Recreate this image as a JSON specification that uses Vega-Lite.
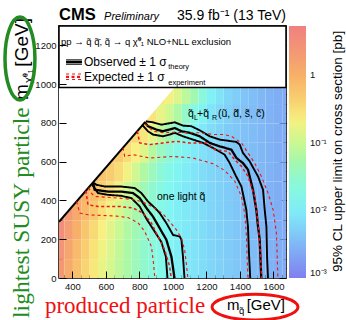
{
"$schema":"https://vega.github.io/schema/vega-lite/v6.json",
"width":227,"height":252,
"autosize":{"type":"none"},
"padding":{"left":59,"top":26,"right":60,"bottom":42},
"background":"white",
"config":{"view":{"stroke":"black","strokeWidth":1.5},"font":"Liberation Sans"},
"resolve":{"axis":{"x":"independent","y":"independent"}},
"datasets":{
"cells":[
{"m":300,"l":0,"s":2.2},{"m":300,"l":100,"s":2.7},{"m":300,"l":200,"s":3.2},{"m":300,"l":300,"s":3.5},
{"m":350,"l":0,"s":1.19},{"m":350,"l":100,"s":1.41},{"m":350,"l":200,"s":1.8},{"m":350,"l":300,"s":2.14},
{"m":400,"l":0,"s":0.65},{"m":400,"l":100,"s":0.74},{"m":400,"l":200,"s":0.99},{"m":400,"l":300,"s":1.26},{"m":400,"l":400,"s":1.41},
{"m":450,"l":0,"s":0.39},{"m":450,"l":100,"s":0.45},{"m":450,"l":200,"s":0.56},{"m":450,"l":300,"s":0.78},{"m":450,"l":400,"s":0.98},
{"m":500,"l":0,"s":0.26},{"m":500,"l":100,"s":0.29},{"m":500,"l":200,"s":0.35},{"m":500,"l":300,"s":0.5},{"m":500,"l":400,"s":0.68},{"m":500,"l":500,"s":0.79},
{"m":550,"l":0,"s":0.17},{"m":550,"l":100,"s":0.19},{"m":550,"l":200,"s":0.22},{"m":550,"l":300,"s":0.3},{"m":550,"l":400,"s":0.44},{"m":550,"l":500,"s":0.59},
{"m":600,"l":0,"s":0.12},{"m":600,"l":100,"s":0.13},{"m":600,"l":200,"s":0.15},{"m":600,"l":300,"s":0.19},{"m":600,"l":400,"s":0.31},{"m":600,"l":500,"s":0.47},{"m":600,"l":600,"s":0.58},
{"m":650,"l":0,"s":0.083},{"m":650,"l":100,"s":0.089},{"m":650,"l":200,"s":0.1},{"m":650,"l":300,"s":0.124},{"m":650,"l":400,"s":0.19},{"m":650,"l":500,"s":0.33},{"m":650,"l":600,"s":0.49},
{"m":700,"l":0,"s":0.059},{"m":700,"l":100,"s":0.061},{"m":700,"l":200,"s":0.066},{"m":700,"l":300,"s":0.079},{"m":700,"l":400,"s":0.107},{"m":700,"l":500,"s":0.2},{"m":700,"l":600,"s":0.33},{"m":700,"l":700,"s":0.43},
{"m":750,"l":0,"s":0.042},{"m":750,"l":100,"s":0.042},{"m":750,"l":200,"s":0.045},{"m":750,"l":300,"s":0.051},{"m":750,"l":400,"s":0.068},{"m":750,"l":500,"s":0.111},{"m":750,"l":600,"s":0.22},{"m":750,"l":700,"s":0.36},
{"m":800,"l":0,"s":0.03},{"m":800,"l":100,"s":0.03},{"m":800,"l":200,"s":0.032},{"m":800,"l":300,"s":0.035},{"m":800,"l":400,"s":0.044},{"m":800,"l":500,"s":0.065},{"m":800,"l":600,"s":0.14},{"m":800,"l":700,"s":0.27},{"m":800,"l":800,"s":0.37},
{"m":850,"l":0,"s":0.022},{"m":850,"l":100,"s":0.022},{"m":850,"l":200,"s":0.022},{"m":850,"l":300,"s":0.025},{"m":850,"l":400,"s":0.029},{"m":850,"l":500,"s":0.04},{"m":850,"l":600,"s":0.071},{"m":850,"l":700,"s":0.16},{"m":850,"l":800,"s":0.28},
{"m":900,"l":0,"s":0.017},{"m":900,"l":100,"s":0.017},{"m":900,"l":200,"s":0.017},{"m":900,"l":300,"s":0.018},{"m":900,"l":400,"s":0.02},{"m":900,"l":500,"s":0.025},{"m":900,"l":600,"s":0.038},{"m":900,"l":700,"s":0.085},{"m":900,"l":800,"s":0.17},{"m":900,"l":900,"s":0.24},
{"m":950,"l":0,"s":0.013},{"m":950,"l":100,"s":0.013},{"m":950,"l":200,"s":0.013},{"m":950,"l":300,"s":0.013},{"m":950,"l":400,"s":0.0145},{"m":950,"l":500,"s":0.0174},{"m":950,"l":600,"s":0.025},{"m":950,"l":700,"s":0.047},{"m":950,"l":800,"s":0.11},{"m":950,"l":900,"s":0.21},
{"m":1000,"l":0,"s":0.0107},{"m":1000,"l":100,"s":0.0107},{"m":1000,"l":200,"s":0.0107},{"m":1000,"l":300,"s":0.0107},{"m":1000,"l":400,"s":0.0112},{"m":1000,"l":500,"s":0.0129},{"m":1000,"l":600,"s":0.0166},{"m":1000,"l":700,"s":0.026},{"m":1000,"l":800,"s":0.063},{"m":1000,"l":900,"s":0.135},
{"m":1050,"l":0,"s":0.0091},{"m":1050,"l":100,"s":0.0091},{"m":1050,"l":200,"s":0.0091},{"m":1050,"l":300,"s":0.0091},{"m":1050,"l":400,"s":0.0091},{"m":1050,"l":500,"s":0.01},{"m":1050,"l":600,"s":0.012},{"m":1050,"l":700,"s":0.0172},{"m":1050,"l":800,"s":0.032},{"m":1050,"l":900,"s":0.079},
{"m":1100,"l":0,"s":0.0079},{"m":1100,"l":100,"s":0.0079},{"m":1100,"l":200,"s":0.0079},{"m":1100,"l":300,"s":0.0079},{"m":1100,"l":400,"s":0.0079},{"m":1100,"l":500,"s":0.0083},{"m":1100,"l":600,"s":0.0095},{"m":1100,"l":700,"s":0.0123},{"m":1100,"l":800,"s":0.0193},{"m":1100,"l":900,"s":0.047},
{"m":1150,"l":0,"s":0.0069},{"m":1150,"l":100,"s":0.0069},{"m":1150,"l":200,"s":0.0069},{"m":1150,"l":300,"s":0.0069},{"m":1150,"l":400,"s":0.0069},{"m":1150,"l":500,"s":0.0069},{"m":1150,"l":600,"s":0.0076},{"m":1150,"l":700,"s":0.0089},{"m":1150,"l":800,"s":0.0123},{"m":1150,"l":900,"s":0.0219},
{"m":1200,"l":0,"s":0.006},{"m":1200,"l":100,"s":0.006},{"m":1200,"l":200,"s":0.006},{"m":1200,"l":300,"s":0.006},{"m":1200,"l":400,"s":0.006},{"m":1200,"l":500,"s":0.006},{"m":1200,"l":600,"s":0.0063},{"m":1200,"l":700,"s":0.0069},{"m":1200,"l":800,"s":0.0083},{"m":1200,"l":900,"s":0.0115},
{"m":1250,"l":0,"s":0.0054},{"m":1250,"l":100,"s":0.0054},{"m":1250,"l":200,"s":0.0054},{"m":1250,"l":300,"s":0.0054},{"m":1250,"l":400,"s":0.0054},{"m":1250,"l":500,"s":0.0054},{"m":1250,"l":600,"s":0.0055},{"m":1250,"l":700,"s":0.0057},{"m":1250,"l":800,"s":0.0064},{"m":1250,"l":900,"s":0.008},
{"m":1300,"l":0,"s":0.0048},{"m":1300,"l":100,"s":0.0048},{"m":1300,"l":200,"s":0.0048},{"m":1300,"l":300,"s":0.0048},{"m":1300,"l":400,"s":0.0048},{"m":1300,"l":500,"s":0.0048},{"m":1300,"l":600,"s":0.0048},{"m":1300,"l":700,"s":0.0048},{"m":1300,"l":800,"s":0.0052},{"m":1300,"l":900,"s":0.006},
{"m":1350,"l":0,"s":0.0043},{"m":1350,"l":100,"s":0.0043},{"m":1350,"l":200,"s":0.0043},{"m":1350,"l":300,"s":0.0043},{"m":1350,"l":400,"s":0.0043},{"m":1350,"l":500,"s":0.0043},{"m":1350,"l":600,"s":0.0043},{"m":1350,"l":700,"s":0.0043},{"m":1350,"l":800,"s":0.0043},{"m":1350,"l":900,"s":0.0049},
{"m":1400,"l":0,"s":0.0038},{"m":1400,"l":100,"s":0.0038},{"m":1400,"l":200,"s":0.0038},{"m":1400,"l":300,"s":0.0038},{"m":1400,"l":400,"s":0.0038},{"m":1400,"l":500,"s":0.0038},{"m":1400,"l":600,"s":0.0038},{"m":1400,"l":700,"s":0.0038},{"m":1400,"l":800,"s":0.0038},{"m":1400,"l":900,"s":0.0041},
{"m":1450,"l":0,"s":0.0035},{"m":1450,"l":100,"s":0.0035},{"m":1450,"l":200,"s":0.0035},{"m":1450,"l":300,"s":0.0035},{"m":1450,"l":400,"s":0.0035},{"m":1450,"l":500,"s":0.0035},{"m":1450,"l":600,"s":0.0035},{"m":1450,"l":700,"s":0.0035},{"m":1450,"l":800,"s":0.0035},{"m":1450,"l":900,"s":0.0036},
{"m":1500,"l":0,"s":0.0032},{"m":1500,"l":100,"s":0.0032},{"m":1500,"l":200,"s":0.0032},{"m":1500,"l":300,"s":0.0032},{"m":1500,"l":400,"s":0.0032},{"m":1500,"l":500,"s":0.0032},{"m":1500,"l":600,"s":0.0032},{"m":1500,"l":700,"s":0.0032},{"m":1500,"l":800,"s":0.0032},{"m":1500,"l":900,"s":0.0032},
{"m":1550,"l":0,"s":0.0029},{"m":1550,"l":100,"s":0.0029},{"m":1550,"l":200,"s":0.0029},{"m":1550,"l":300,"s":0.0029},{"m":1550,"l":400,"s":0.0029},{"m":1550,"l":500,"s":0.0029},{"m":1550,"l":600,"s":0.0029},{"m":1550,"l":700,"s":0.0029},{"m":1550,"l":800,"s":0.0029},{"m":1550,"l":900,"s":0.0029},
{"m":1600,"l":0,"s":0.0026},{"m":1600,"l":100,"s":0.0026},{"m":1600,"l":200,"s":0.0026},{"m":1600,"l":300,"s":0.0026},{"m":1600,"l":400,"s":0.0026},{"m":1600,"l":500,"s":0.0026},{"m":1600,"l":600,"s":0.0026},{"m":1600,"l":700,"s":0.0026},{"m":1600,"l":800,"s":0.0026},{"m":1600,"l":900,"s":0.0026},
{"m":1650,"l":0,"s":0.0024},{"m":1650,"l":100,"s":0.0024},{"m":1650,"l":200,"s":0.0024},{"m":1650,"l":300,"s":0.0024},{"m":1650,"l":400,"s":0.0024},{"m":1650,"l":500,"s":0.0024},{"m":1650,"l":600,"s":0.0024},{"m":1650,"l":700,"s":0.0024},{"m":1650,"l":800,"s":0.0024},{"m":1650,"l":900,"s":0.0024}
],
"mask":[{"m":320,"l":292},{"m":1040,"l":1012}],
"diag":[{"m":320,"l":290},{"m":835,"l":805}],
"contours":[
{"c":"Lo","k":"obs","m":832,"l":802},{"c":"Lo","k":"obs","m":851,"l":783},{"c":"Lo","k":"obs","m":901,"l":766},{"c":"Lo","k":"obs","m":941,"l":757},{"c":"Lo","k":"obs","m":981,"l":766},{"c":"Lo","k":"obs","m":1011,"l":774},{"c":"Lo","k":"obs","m":1051,"l":757},{"c":"Lo","k":"obs","m":1100,"l":749},{"c":"Lo","k":"obs","m":1160,"l":731},{"c":"Lo","k":"obs","m":1220,"l":697},{"c":"Lo","k":"obs","m":1279,"l":679},{"c":"Lo","k":"obs","m":1329,"l":667},{"c":"Lo","k":"obs","m":1349,"l":662},{"c":"Lo","k":"obs","m":1379,"l":619},{"c":"Lo","k":"obs","m":1418,"l":593},{"c":"Lo","k":"obs","m":1448,"l":559},{"c":"Lo","k":"obs","m":1478,"l":455},{"c":"Lo","k":"obs","m":1498,"l":352},{"c":"Lo","k":"obs","m":1508,"l":265},{"c":"Lo","k":"obs","m":1518,"l":197},{"c":"Lo","k":"obs","m":1528,"l":-10},
{"c":"Lu","k":"band","m":838,"l":808},{"c":"Lu","k":"band","m":881,"l":803},{"c":"Lu","k":"band","m":931,"l":791},{"c":"Lu","k":"band","m":971,"l":797},{"c":"Lu","k":"band","m":1011,"l":803},{"c":"Lu","k":"band","m":1060,"l":786},{"c":"Lu","k":"band","m":1110,"l":783},{"c":"Lu","k":"band","m":1160,"l":762},{"c":"Lu","k":"band","m":1220,"l":731},{"c":"Lu","k":"band","m":1279,"l":714},{"c":"Lu","k":"band","m":1379,"l":702},{"c":"Lu","k":"band","m":1399,"l":688},{"c":"Lu","k":"band","m":1418,"l":645},{"c":"Lu","k":"band","m":1458,"l":602},{"c":"Lu","k":"band","m":1508,"l":524},{"c":"Lu","k":"band","m":1538,"l":455},{"c":"Lu","k":"band","m":1548,"l":352},{"c":"Lu","k":"band","m":1558,"l":265},{"c":"Lu","k":"band","m":1562,"l":110},{"c":"Lu","k":"band","m":1568,"l":-10},
{"c":"Ld","k":"band","m":818,"l":788},{"c":"Ld","k":"band","m":851,"l":757},{"c":"Ld","k":"band","m":881,"l":740},{"c":"Ld","k":"band","m":941,"l":731},{"c":"Ld","k":"band","m":981,"l":740},{"c":"Ld","k":"band","m":1011,"l":749},{"c":"Ld","k":"band","m":1060,"l":731},{"c":"Ld","k":"band","m":1120,"l":714},{"c":"Ld","k":"band","m":1180,"l":697},{"c":"Ld","k":"band","m":1239,"l":671},{"c":"Ld","k":"band","m":1309,"l":636},{"c":"Ld","k":"band","m":1339,"l":593},{"c":"Ld","k":"band","m":1375,"l":528},{"c":"Ld","k":"band","m":1409,"l":472},{"c":"Ld","k":"band","m":1438,"l":352},{"c":"Ld","k":"band","m":1448,"l":265},{"c":"Ld","k":"band","m":1454,"l":128},{"c":"Ld","k":"band","m":1462,"l":-10},
{"c":"Le","k":"exp","m":787,"l":757},{"c":"Le","k":"exp","m":802,"l":697},{"c":"Le","k":"exp","m":861,"l":688},{"c":"Le","k":"exp","m":941,"l":697},{"c":"Le","k":"exp","m":1021,"l":705},{"c":"Le","k":"exp","m":1100,"l":697},{"c":"Le","k":"exp","m":1200,"l":697},{"c":"Le","k":"exp","m":1239,"l":671},{"c":"Le","k":"exp","m":1250,"l":662},{"c":"Le","k":"exp","m":1329,"l":653},{"c":"Le","k":"exp","m":1369,"l":610},{"c":"Le","k":"exp","m":1409,"l":576},{"c":"Le","k":"exp","m":1448,"l":524},{"c":"Le","k":"exp","m":1488,"l":421},{"c":"Le","k":"exp","m":1508,"l":283},{"c":"Le","k":"exp","m":1518,"l":180},{"c":"Le","k":"exp","m":1530,"l":-10},
{"c":"Leu","k":"eband","m":835,"l":795},{"c":"Leu","k":"eband","m":881,"l":757},{"c":"Leu","k":"eband","m":941,"l":750},{"c":"Leu","k":"eband","m":1001,"l":752},{"c":"Leu","k":"eband","m":1060,"l":750},{"c":"Leu","k":"eband","m":1160,"l":749},{"c":"Leu","k":"eband","m":1250,"l":740},{"c":"Leu","k":"eband","m":1309,"l":740},{"c":"Leu","k":"eband","m":1349,"l":731},{"c":"Leu","k":"eband","m":1409,"l":697},{"c":"Leu","k":"eband","m":1448,"l":645},{"c":"Leu","k":"eband","m":1488,"l":593},{"c":"Leu","k":"eband","m":1528,"l":524},{"c":"Leu","k":"eband","m":1568,"l":438},{"c":"Leu","k":"eband","m":1598,"l":352},{"c":"Leu","k":"eband","m":1618,"l":231},{"c":"Leu","k":"eband","m":1627,"l":-10},
{"c":"Led","k":"eband","m":702,"l":672},{"c":"Led","k":"eband","m":712,"l":627},{"c":"Led","k":"eband","m":762,"l":636},{"c":"Led","k":"eband","m":861,"l":619},{"c":"Led","k":"eband","m":1001,"l":627},{"c":"Led","k":"eband","m":1120,"l":619},{"c":"Led","k":"eband","m":1239,"l":590},{"c":"Led","k":"eband","m":1309,"l":555},{"c":"Led","k":"eband","m":1369,"l":500},{"c":"Led","k":"eband","m":1409,"l":421},{"c":"Led","k":"eband","m":1428,"l":335},{"c":"Led","k":"eband","m":1438,"l":231},{"c":"Led","k":"eband","m":1448,"l":-10},
{"c":"So","k":"obs","m":523,"l":493},{"c":"So","k":"obs","m":533,"l":455},{"c":"So","k":"obs","m":612,"l":446},{"c":"So","k":"obs","m":692,"l":446},{"c":"So","k":"obs","m":762,"l":438},{"c":"So","k":"obs","m":802,"l":412},{"c":"So","k":"obs","m":842,"l":361},{"c":"So","k":"obs","m":881,"l":317},{"c":"So","k":"obs","m":921,"l":257},{"c":"So","k":"obs","m":961,"l":197},{"c":"So","k":"obs","m":991,"l":110},{"c":"So","k":"obs","m":1011,"l":-10},
{"c":"Su","k":"band","m":523,"l":493},{"c":"Su","k":"band","m":543,"l":481},{"c":"Su","k":"band","m":593,"l":472},{"c":"Su","k":"band","m":692,"l":472},{"c":"Su","k":"band","m":772,"l":464},{"c":"Su","k":"band","m":812,"l":438},{"c":"Su","k":"band","m":851,"l":395},{"c":"Su","k":"band","m":893,"l":361},{"c":"Su","k":"band","m":921,"l":335},{"c":"Su","k":"band","m":961,"l":283},{"c":"Su","k":"band","m":1001,"l":222},{"c":"Su","k":"band","m":1041,"l":214},{"c":"Su","k":"band","m":1051,"l":197},{"c":"Su","k":"band","m":1060,"l":110},{"c":"Su","k":"band","m":1070,"l":-10},
{"c":"Sd","k":"band","m":515,"l":485},{"c":"Sd","k":"band","m":553,"l":438},{"c":"Sd","k":"band","m":612,"l":429},{"c":"Sd","k":"band","m":692,"l":424},{"c":"Sd","k":"band","m":752,"l":412},{"c":"Sd","k":"band","m":802,"l":369},{"c":"Sd","k":"band","m":842,"l":305},{"c":"Sd","k":"band","m":881,"l":253},{"c":"Sd","k":"band","m":931,"l":186},{"c":"Sd","k":"band","m":958,"l":110},{"c":"Sd","k":"band","m":968,"l":-10},
{"c":"Se","k":"exp","m":480,"l":450},{"c":"Se","k":"exp","m":493,"l":378},{"c":"Se","k":"exp","m":553,"l":369},{"c":"Se","k":"exp","m":682,"l":369},{"c":"Se","k":"exp","m":762,"l":361},{"c":"Se","k":"exp","m":821,"l":335},{"c":"Se","k":"exp","m":872,"l":283},{"c":"Se","k":"exp","m":911,"l":214},{"c":"Se","k":"exp","m":951,"l":145},{"c":"Se","k":"exp","m":981,"l":58},{"c":"Se","k":"exp","m":991,"l":-10},
{"c":"Seu","k":"eband","m":497,"l":467},{"c":"Seu","k":"eband","m":510,"l":440},{"c":"Seu","k":"eband","m":533,"l":421},{"c":"Seu","k":"eband","m":682,"l":412},{"c":"Seu","k":"eband","m":772,"l":403},{"c":"Seu","k":"eband","m":812,"l":395},{"c":"Seu","k":"eband","m":861,"l":375},{"c":"Seu","k":"eband","m":901,"l":355},{"c":"Seu","k":"eband","m":941,"l":330},{"c":"Seu","k":"eband","m":981,"l":291},{"c":"Seu","k":"eband","m":1021,"l":248},{"c":"Seu","k":"eband","m":1051,"l":205},{"c":"Seu","k":"eband","m":1070,"l":145},{"c":"Seu","k":"eband","m":1080,"l":76},{"c":"Seu","k":"eband","m":1090,"l":-10},
{"c":"Sed","k":"eband","m":425,"l":395},{"c":"Sed","k":"eband","m":444,"l":335},{"c":"Sed","k":"eband","m":493,"l":326},{"c":"Sed","k":"eband","m":652,"l":320},{"c":"Sed","k":"eband","m":732,"l":312},{"c":"Sed","k":"eband","m":792,"l":285},{"c":"Sed","k":"eband","m":832,"l":240},{"c":"Sed","k":"eband","m":872,"l":162},{"c":"Sed","k":"eband","m":884,"l":76},{"c":"Sed","k":"eband","m":893,"l":-10}
]
},
"layer":[
{"data":{"name":"cells"},
 "mark":{"type":"rect","clip":true},
 "encoding":{
  "x":{"field":"m","type":"quantitative","bin":{"binned":true,"step":50},"scale":{"domain":[320,1675],"nice":false,"zero":false},
       "axis":{"orient":"bottom","values":[400,600,800,1000,1200,1400,1600],"title":null,"domain":false,"grid":false,"tickSize":-7,"tickColor":"black","labelPadding":10,"labelFontSize":9.5,"labelColor":"#111","labelFont":"Liberation Sans","labelFlush":false,"labelOverlap":false,"format":"d"}},
  "y":{"field":"l","type":"quantitative","bin":{"binned":true,"step":100},"scale":{"domain":[0,1300],"nice":false,"zero":false},
       "axis":{"orient":"left","values":[0,200,400,600,800,1000,1200],"title":null,"domain":false,"grid":false,"tickSize":-7,"tickColor":"black","labelPadding":10,"labelFontSize":9.5,"labelColor":"#111","labelFont":"Liberation Sans","labelFlush":false,"labelOverlap":false,"format":"d"}},
  "color":{"field":"s","type":"quantitative",
    "scale":{"type":"log","domain":[0.001,0.0023,0.0044,0.0088,0.0145,0.029,0.056,0.11,0.218,0.43,1.0,1.66,5.3],
             "range":["#8080f0","#80a8f4","#80c8f8","#80e8f8","#80f8f0","#90f8d0","#a8f8a8","#d0f890","#f8f080","#f8d070","#f8b068","#f5a070","#f08080"],"interpolate":"rgb"},
    "legend":{"orient":"none","legendX":230,"legendY":0,"direction":"vertical","gradientLength":252,"gradientThickness":17,"title":null,"padding":0,
              "values":[0.001,0.01,0.1,1],"labelExpr":"datum.value > 0.5 ? '1' : datum.value > 0.05 ? '10⁻¹' : datum.value > 0.005 ? '10⁻²' : '10⁻³'",
              "labelFontSize":9.5,"labelFont":"Liberation Sans","labelColor":"#111","labelOffset":4,"gradientStrokeWidth":0}}
 }},
{"data":{"name":"mask"},
 "mark":{"type":"area","fill":"white","clip":true,"opacity":1},
 "encoding":{
  "x":{"field":"m","type":"quantitative","axis":{"orient":"bottom","values":[350,400,450,500,550,600,650,700,750,800,850,900,950,1000,1050,1100,1150,1200,1250,1300,1350,1400,1450,1500,1550,1600,1650],"labels":false,"title":null,"domain":false,"grid":false,"tickSize":-3.5,"tickColor":"black"}},
  "y":{"field":"l","type":"quantitative","axis":{"orient":"left","values":[50,100,150,200,250,300,350,400,450,500,550,600,650,700,750,800,850,900,950,1000,1050,1100,1150,1200,1250],"labels":false,"title":null,"domain":false,"grid":false,"tickSize":-3.5,"tickColor":"black"}},
  "y2":{"datum":1300}
 }},
{"data":{"name":"diag"},
 "mark":{"type":"line","color":"black","strokeWidth":2,"clip":true},
 "encoding":{
  "x":{"field":"m","type":"quantitative","axis":{"orient":"top","values":[400,600,800,1000,1200,1400,1600],"labels":false,"title":null,"domain":false,"grid":false,"tickSize":-7,"tickColor":"black"}},
  "y":{"field":"l","type":"quantitative","axis":{"orient":"right","values":[0,200,400,600,800,1000,1200],"labels":false,"title":null,"domain":false,"grid":false,"tickSize":-7,"tickColor":"black"}}
 }},
{"data":{"name":"contours"},
 "mark":{"type":"line","clip":true},
 "encoding":{
  "x":{"field":"m","type":"quantitative","axis":{"orient":"top","values":[350,400,450,500,550,600,650,700,750,800,850,900,950,1000,1050,1100,1150,1200,1250,1300,1350,1400,1450,1500,1550,1600,1650],"labels":false,"title":null,"domain":false,"grid":false,"tickSize":-3.5,"tickColor":"black"}},
  "y":{"field":"l","type":"quantitative","axis":{"orient":"right","values":[50,100,150,200,250,300,350,400,450,500,550,600,650,700,750,800,850,900,950,1000,1050,1100,1150,1200,1250],"labels":false,"title":null,"domain":false,"grid":false,"tickSize":-3.5,"tickColor":"black"}},
  "detail":{"field":"c","type":"nominal"},
  "order":{"value":null},
  "stroke":{"field":"k","type":"nominal","scale":{"domain":["obs","band","exp","eband"],"range":["#000000","#000000","#f01414","#f01414"]},"legend":null},
  "strokeWidth":{"field":"k","type":"nominal","scale":{"domain":["obs","band","exp","eband"],"range":[2.3,1.1,2.2,1.1]},"legend":null},
  "strokeDash":{"field":"k","type":"nominal","scale":{"domain":["obs","band","exp","eband"],"range":[[1,0],[1,0],[3,2.5],[3,3]]},"legend":null}
 }},
{"data":{"values":[{}]},"mark":{"type":"rect","fill":"white","stroke":"black","strokeWidth":1.5},
 "encoding":{"x":{"datum":320,"axis":null},"x2":{"datum":1675},"y":{"datum":983,"axis":null},"y2":{"datum":1300}}},
{"data":{"values":[{}]},"mark":{"type":"rule","stroke":"black","strokeWidth":1.1},"encoding":{"x":{"datum":362,"axis":null},"x2":{"datum":457},"y":{"datum":1125,"axis":null}}},
{"data":{"values":[{}]},"mark":{"type":"rule","stroke":"black","strokeWidth":2.2},"encoding":{"x":{"datum":362,"axis":null},"x2":{"datum":457},"y":{"datum":1114,"axis":null}}},
{"data":{"values":[{}]},"mark":{"type":"rule","stroke":"black","strokeWidth":1.1},"encoding":{"x":{"datum":362,"axis":null},"x2":{"datum":457},"y":{"datum":1103,"axis":null}}},
{"data":{"values":[{}]},"mark":{"type":"rule","stroke":"#f01414","strokeWidth":1.1,"strokeDash":[3,3]},"encoding":{"x":{"datum":362,"axis":null},"x2":{"datum":457},"y":{"datum":1052,"axis":null}}},
{"data":{"values":[{}]},"mark":{"type":"rule","stroke":"#f01414","strokeWidth":2.2,"strokeDash":[3,2.5]},"encoding":{"x":{"datum":362,"axis":null},"x2":{"datum":457},"y":{"datum":1038,"axis":null}}},
{"data":{"values":[{}]},"mark":{"type":"rule","stroke":"#f01414","strokeWidth":1.1,"strokeDash":[3,3]},"encoding":{"x":{"datum":362,"axis":null},"x2":{"datum":457},"y":{"datum":1024,"axis":null}}},
{"data":{"values":[{}]},"mark":{"type":"text","text":"pp → q̃ q̃̄, q̃ → q χ̃⁰₁  NLO+NLL exclusion","fontSize":9.5,"align":"left","baseline":"alphabetic","color":"black"},"encoding":{"x":{"datum":332,"axis":null},"y":{"datum":1202,"axis":null}}},
{"data":{"values":[{}]},"mark":{"type":"text","text":"Observed ± 1 σ","fontSize":12,"align":"left","baseline":"alphabetic","color":"black"},"encoding":{"x":{"datum":469,"axis":null},"y":{"datum":1094,"axis":null}}},
{"data":{"values":[{}]},"mark":{"type":"text","text":"theory","fontSize":7.5,"align":"left","baseline":"alphabetic","color":"black"},"encoding":{"x":{"datum":972,"axis":null},"y":{"datum":1076,"axis":null}}},
{"data":{"values":[{}]},"mark":{"type":"text","text":"Expected ± 1 σ","fontSize":12,"align":"left","baseline":"alphabetic","color":"black"},"encoding":{"x":{"datum":469,"axis":null},"y":{"datum":1014,"axis":null}}},
{"data":{"values":[{}]},"mark":{"type":"text","text":"experiment","fontSize":7.5,"align":"left","baseline":"alphabetic","color":"black"},"encoding":{"x":{"datum":972,"axis":null},"y":{"datum":998,"axis":null}}},
{"data":{"values":[{}]},"mark":{"type":"text","text":"CMS","fontSize":16.5,"fontWeight":"bold","align":"left","baseline":"alphabetic","color":"black"},"encoding":{"x":{"datum":320,"axis":null},"y":{"datum":1331,"axis":null}}},
{"data":{"values":[{}]},"mark":{"type":"text","text":"Preliminary","fontSize":11,"fontStyle":"italic","align":"left","baseline":"alphabetic","color":"black"},"encoding":{"x":{"datum":589,"axis":null},"y":{"datum":1331,"axis":null}}},
{"data":{"values":[{}]},"mark":{"type":"text","text":"35.9 fb⁻¹ (13 TeV)","fontSize":14,"align":"right","baseline":"alphabetic","color":"black"},"encoding":{"x":{"datum":1675,"axis":null},"y":{"datum":1331,"axis":null}}},
{"data":{"values":[{}]},"mark":{"type":"text","text":"q̃","fontSize":10.5,"align":"left","baseline":"alphabetic","color":"black"},"encoding":{"x":{"datum":1090,"axis":null},"y":{"datum":831,"axis":null}}},
{"data":{"values":[{}]},"mark":{"type":"text","text":"L","fontSize":7,"align":"left","baseline":"alphabetic","color":"black"},"encoding":{"x":{"datum":1126,"axis":null},"y":{"datum":815,"axis":null}}},
{"data":{"values":[{}]},"mark":{"type":"text","text":"+q̃","fontSize":10.5,"align":"left","baseline":"alphabetic","color":"black"},"encoding":{"x":{"datum":1144,"axis":null},"y":{"datum":831,"axis":null}}},
{"data":{"values":[{}]},"mark":{"type":"text","text":"R","fontSize":7,"align":"left","baseline":"alphabetic","color":"black"},"encoding":{"x":{"datum":1233,"axis":null},"y":{"datum":815,"axis":null}}},
{"data":{"values":[{}]},"mark":{"type":"text","text":"(ũ, d̃, s̃, c̃)","fontSize":10.5,"align":"left","baseline":"alphabetic","color":"black"},"encoding":{"x":{"datum":1269,"axis":null},"y":{"datum":831,"axis":null}}},
{"data":{"values":[{}]},"mark":{"type":"text","text":"one light q̃","fontSize":10.5,"align":"left","baseline":"alphabetic","color":"black"},"encoding":{"x":{"datum":905,"axis":null},"y":{"datum":402,"axis":null}}},
{"data":{"values":[{}]},"mark":{"type":"text","text":"m","fontSize":15,"align":"left","baseline":"alphabetic","color":"black"},"encoding":{"x":{"datum":1323,"axis":null},"y":{"datum":-165,"axis":null}}},
{"data":{"values":[{}]},"mark":{"type":"text","text":"q̃","fontSize":9.5,"align":"left","baseline":"alphabetic","color":"black"},"encoding":{"x":{"datum":1394,"axis":null},"y":{"datum":-186,"axis":null}}},
{"data":{"values":[{}]},"mark":{"type":"text","text":"[GeV]","fontSize":15,"align":"right","baseline":"alphabetic","color":"black"},"encoding":{"x":{"datum":1669,"axis":null},"y":{"datum":-165,"axis":null}}},
{"data":{"values":[{}]},"mark":{"type":"text","text":"m","fontSize":19,"angle":270,"align":"left","baseline":"alphabetic","color":"black"},"encoding":{"x":{"datum":135,"axis":null},"y":{"datum":918,"axis":null}}},
{"data":{"values":[{}]},"mark":{"type":"text","text":"χ̃⁰₁","fontSize":11,"angle":270,"align":"left","baseline":"alphabetic","color":"black"},"encoding":{"x":{"datum":159,"axis":null},"y":{"datum":1006,"axis":null}}},
{"data":{"values":[{}]},"mark":{"type":"text","text":"[GeV]","fontSize":19,"angle":270,"align":"right","baseline":"alphabetic","color":"black"},"encoding":{"x":{"datum":135,"axis":null},"y":{"datum":1341,"axis":null}}},
{"data":{"values":[{}]},"mark":{"type":"text","text":"95% CL upper limit on cross section [pb]","fontSize":13.5,"angle":270,"align":"center","baseline":"alphabetic","color":"black"},"encoding":{"x":{"datum":2012,"axis":null},"y":{"datum":653,"axis":null}}},
{"data":{"values":[{}]},"mark":{"type":"text","text":"lightest SUSY particle","font":"Liberation Serif","fontSize":23.5,"angle":270,"align":"left","baseline":"alphabetic","color":"#228b22"},"encoding":{"x":{"datum":141,"axis":null},"y":{"datum":-206,"axis":null}}},
{"data":{"values":[{}]},"mark":{"type":"text","text":"produced particle","font":"Liberation Serif","fontSize":23,"align":"left","baseline":"alphabetic","color":"#f01010"},"encoding":{"x":{"datum":236,"axis":null},"y":{"datum":-182,"axis":null}}},
{"data":{"values":[{}]},"mark":{"type":"point","shape":"M0,-1A0.361,1,0,1,0,0,1A0.361,1,0,1,0,0,-1Z","size":6889,"filled":false,"fill":null,"stroke":"#228b22","strokeWidth":3.5,"opacity":1},"encoding":{"x":{"datum":87,"axis":null},"y":{"datum":1132,"axis":null}}},
{"data":{"values":[{}]},"mark":{"type":"point","shape":"M-1,0A1,0.3,0,1,0,1,0A1,0.3,0,1,0,-1,0Z","size":7396,"filled":false,"fill":null,"stroke":"#f01010","strokeWidth":3,"opacity":1},"encoding":{"x":{"datum":1490,"axis":null},"y":{"datum":-150,"axis":null}}}
]
}
